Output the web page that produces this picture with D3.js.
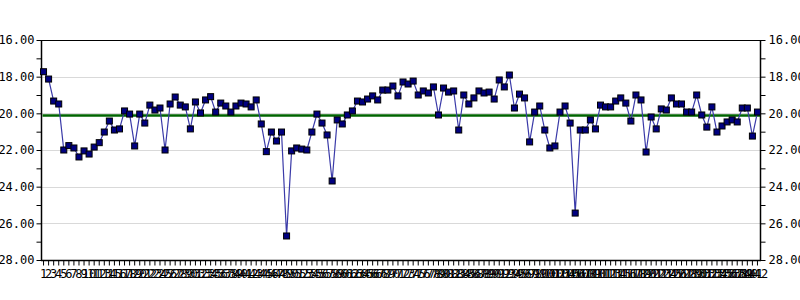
<!DOCTYPE html>
<html>
<head>
<meta charset="utf-8">
<script src="https://cdn.jsdelivr.net/npm/d3@7"></script>
<style>
    body { margin: 0; background: #fff; }
    svg text { font-family: "DejaVu Sans Mono", monospace; font-size: 12px; fill: #000; }
</style>
</head>
<body>
<div id="chart"></div>
<script>
// values (axis runs 16 at top down to 28)
var values = [
    17.73, 18.13, 19.33, 19.49, 22.00, 21.76, 21.89, 22.38, 22.05, 22.22,
    21.84, 21.60, 21.02, 20.42, 20.91, 20.85, 19.87, 20.04, 21.78, 20.04,
    20.53, 19.55, 19.82, 19.71, 22.00, 19.49, 19.11, 19.55, 19.65, 20.85,
    19.38, 19.98, 19.27, 19.09, 19.93, 19.44, 19.60, 19.93, 19.60, 19.44,
    19.49, 19.65, 19.27, 20.58, 22.09, 21.02, 21.51, 21.02, 26.69, 22.05,
    21.89, 21.95, 22.00, 21.02, 20.04, 20.53, 21.18, 23.69, 20.36, 20.58,
    20.09, 19.87, 19.33, 19.38, 19.22, 19.05, 19.27, 18.73, 18.73, 18.51,
    19.05, 18.29, 18.40, 18.24, 19.00, 18.78, 18.89, 18.56, 20.09, 18.62,
    18.84, 18.78, 20.91, 19.00, 19.49, 19.16, 18.78, 18.89, 18.84, 19.22,
    18.18, 18.56, 17.91, 19.71, 18.95, 19.16, 21.56, 19.93, 19.60, 20.91,
    21.89, 21.78, 19.93, 19.60, 20.53, 25.44, 20.91, 20.91, 20.36, 20.85,
    19.55, 19.65, 19.65, 19.33, 19.16, 19.44, 20.42, 19.00, 19.27, 22.11,
    20.20, 20.85, 19.76, 19.82, 19.16, 19.49, 19.49, 19.93, 19.93, 19.00,
    20.09, 20.75, 19.65, 21.02, 20.69, 20.47, 20.36, 20.47, 19.71, 19.71,
    21.24, 19.93
];
var categories = values.map(function(v, i){ return String(i + 1); });
var y_ticks = [16, 18, 20, 22, 24, 26, 28];
var y_minor = [17, 19, 21, 23, 25, 27];
var center_line = 20.12;

var WIDTH = 800, HEIGHT = 300,
    LEFT = 41, RIGHT = 760, TOP = 40, BOTTOM = 260;

var svg = d3.select("#chart").append("svg")
    .attr("width", WIDTH)
    .attr("height", HEIGHT);

var x = d3.scaleBand().domain(categories).range([LEFT, RIGHT]);
var y = d3.scaleLinear().domain([16, 28]).range([TOP, BOTTOM]);

// grid lines
svg.append("g").selectAll("line")
    .data(y_ticks.slice(1, -1))
    .enter().append("line")
    .attr("x1", LEFT).attr("x2", RIGHT)
    .attr("y1", function(d){ return Math.round(y(d)) + 0.5; })
    .attr("y2", function(d){ return Math.round(y(d)) + 0.5; })
    .attr("stroke", "#d9d9d9");

// top border
svg.append("line")
    .attr("x1", LEFT).attr("x2", RIGHT + 0.5)
    .attr("y1", TOP + 0.5).attr("y2", TOP + 0.5)
    .attr("stroke", "#000");

// axes
var all_ticks = y_ticks.concat(y_minor).sort(d3.ascending);
function fmt(d){ return y_ticks.indexOf(d) != -1 ? d3.format(".2f")(d) : ""; }

var left_axis = svg.append("g")
    .attr("transform", "translate(" + (LEFT + 0.5) + ",0)")
    .call(d3.axisLeft(y).tickValues(all_ticks).tickFormat(fmt).tickSize(5).tickPadding(2));

var right_axis = svg.append("g")
    .attr("transform", "translate(" + (RIGHT + 0.5) + ",0)")
    .call(d3.axisRight(y).tickValues(all_ticks).tickFormat(fmt).tickSize(5).tickPadding(3));

var bottom_axis = svg.append("g")
    .attr("transform", "translate(0," + (BOTTOM + 0.5) + ")")
    .call(d3.axisBottom(x).tickSize(5).tickPadding(4));

[left_axis, right_axis, bottom_axis].forEach(function(a){
    a.select(".domain").attr("stroke", "#000").attr("stroke-width", 1.5);
    a.selectAll(".tick line").attr("stroke", "#000");
    a.selectAll("text").attr("font-family", "DejaVu Sans Mono").attr("font-size", 12).attr("fill", "#000");
});
left_axis.select(".domain").attr("d", "M0," + TOP + "V" + BOTTOM);
right_axis.select(".domain").attr("d", "M0," + TOP + "V" + BOTTOM);
bottom_axis.select(".domain").attr("d", "M" + LEFT + ",0H" + (RIGHT + 1));

// center line
svg.append("line")
    .attr("x1", x(categories[0]) + x.bandwidth() / 2 - 1)
    .attr("x2", RIGHT)
    .attr("y1", y(center_line)).attr("y2", y(center_line))
    .attr("stroke", "#006400")
    .attr("stroke-width", 2.5);

// series line
var cx = function(d, i){ return x(categories[i]) + x.bandwidth() / 2; };
svg.append("path")
    .datum(values)
    .attr("d", d3.line().x(cx).y(function(d){ return y(d); }))
    .attr("fill", "none")
    .attr("stroke", "#3a3aa8")
    .attr("stroke-width", 1.2);

// markers
svg.append("g").selectAll("rect")
    .data(values)
    .enter().append("rect")
    .attr("x", function(d, i){ return cx(d, i) - 3; })
    .attr("y", function(d){ return y(d) - 3; })
    .attr("width", 6).attr("height", 6)
    .attr("fill", "#000080")
    .attr("stroke", "#000")
    .attr("stroke-width", 1);
</script>
</body>
</html>
